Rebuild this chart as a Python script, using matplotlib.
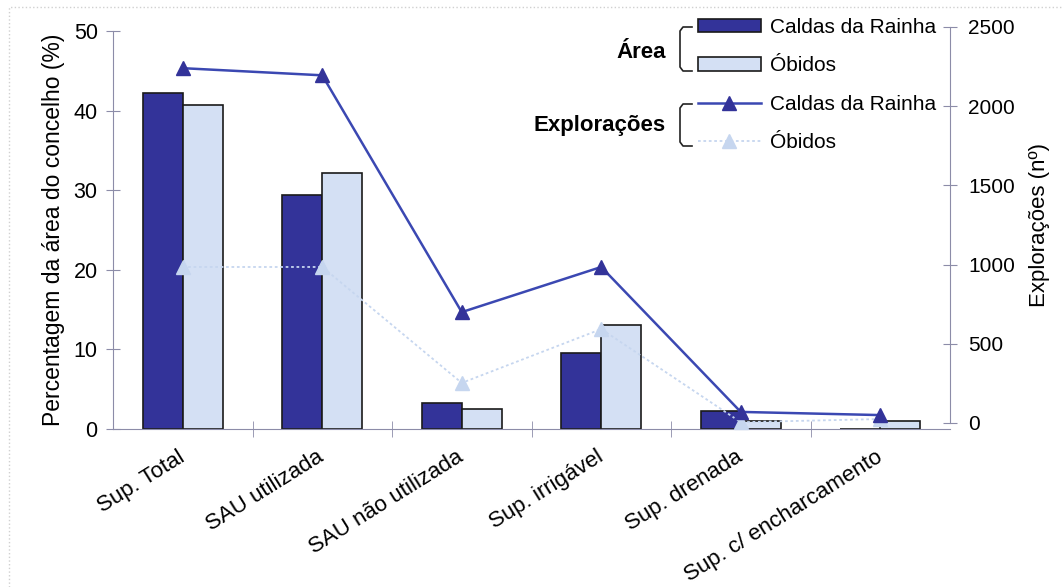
import matplotlib
matplotlib.use('Agg')

import matplotlib.pyplot as plt
import numpy as np
from matplotlib.lines import Line2D
from matplotlib.patches import Patch

plt.rcParams['font.family'] = ['Liberation Sans', 'DejaVu Sans']
plt.rcParams['font.size'] = 15

categorias = ['Sup. Total', 'SAU utilizada', 'SAU não utilizada',
              'Sup. irrigável', 'Sup. drenada', 'Sup. c/ encharcamento']

# area (% do concelho)
area_caldas = [42.2, 29.4, 3.3, 9.6, 2.2, 0.0]
area_obidos = [40.7, 32.2, 2.5, 13.1, 1.0, 1.0]

# numero de exploracoes
expl_caldas = [2240, 2195, 700, 985, 70, 50]
expl_obidos = [985, 985, 253, 593, 5, 25]

COR_CALDAS = '#333399'
COR_OBIDOS = '#D4E0F4'
LINHA_CALDAS = '#3B48B2'
LINHA_OBIDOS = '#C6D6EF'
EIXO = '#8C8CA8'

W, H = 1063, 587
fig = plt.figure(figsize=(W/100, H/100), dpi=100)
ax = fig.add_axes([113/W, 1 - 429/H, (950 - 113)/W, (429 - 31)/H])
# eixo secundario ligeiramente desfasado do principal
ax2 = fig.add_axes([113/W, 1 - 423/H, (950 - 113)/W, (423 - 27)/H], sharex=ax)
ax2.patch.set_visible(False)

x = np.arange(len(categorias))
w = 0.287
ax.bar(x - w/2, area_caldas, w, color=COR_CALDAS, edgecolor='#1a1a1a', linewidth=1.2, zorder=2)
ax.bar(x + w/2, area_obidos, w, color=COR_OBIDOS, edgecolor='#1a1a1a', linewidth=1.2, zorder=2)

ax2.plot(x, expl_obidos, color=LINHA_OBIDOS, linestyle=(0, (1.5, 1.5)), linewidth=1.3,
         marker='^', markersize=10, markerfacecolor=LINHA_OBIDOS, markeredgecolor=LINHA_OBIDOS,
         clip_on=False)
ax2.plot(x, expl_caldas, color=LINHA_CALDAS, linewidth=1.8,
         marker='^', markersize=10, markerfacecolor=COR_CALDAS, markeredgecolor=COR_CALDAS,
         clip_on=False)

ax.set_xlim(-0.5, len(categorias) - 0.5)
ax.set_ylim(0, 50)
ax.set_yticks(np.arange(0, 51, 10))
ax2.set_ylim(0, 2500)
ax2.set_yticks(np.arange(0, 2501, 500))

ax.set_xticks(x)
ax.set_xticklabels(categorias, rotation=32, ha='right', va='center', rotation_mode='anchor',
                   fontsize=16)
ax.set_xticks(np.arange(0.5, len(categorias) - 0.5, 1), minor=True)
ax.tick_params(axis='x', which='major', length=0, pad=19)
ax.tick_params(axis='x', which='minor', direction='inout', length=12, color=EIXO)
ax.tick_params(axis='y', direction='inout', length=10, color=EIXO, pad=6, labelsize=15.5)

ax2.yaxis.tick_right()
ax2.yaxis.set_label_position('right')
ax2.tick_params(axis='x', which='both', bottom=False, labelbottom=False)
ax2.tick_params(axis='y', direction='inout', length=10, color=EIXO, pad=8)

for s in ('top', 'right'):
    ax.spines[s].set_visible(False)
for s in ('top', 'left', 'bottom'):
    ax2.spines[s].set_visible(False)
ax.spines['left'].set_color(EIXO)
ax.spines['bottom'].set_color(EIXO)
ax2.spines['right'].set_color(EIXO)

ax.set_ylabel('Percentagem da área do concelho (%)', fontsize=16.5, labelpad=6)
ax2.set_ylabel('Explorações (nº)', fontsize=16, labelpad=10)

# legenda
handles = [
    Patch(facecolor=COR_CALDAS, edgecolor='#1a1a1a', linewidth=1.2),
    Patch(facecolor=COR_OBIDOS, edgecolor='#1a1a1a', linewidth=1.2),
    Line2D([], [], color=LINHA_CALDAS, linewidth=1.8, marker='^', markersize=10,
           markerfacecolor=COR_CALDAS, markeredgecolor=COR_CALDAS),
    Line2D([], [], color=LINHA_OBIDOS, linestyle=(0, (1.5, 1.5)), linewidth=1.3, marker='^',
           markersize=10, markerfacecolor=LINHA_OBIDOS, markeredgecolor=LINHA_OBIDOS),
]
labels = ['Caldas da Rainha', 'Óbidos', 'Caldas da Rainha', 'Óbidos']
leg = ax2.legend(handles, labels, loc='upper left', bbox_to_anchor=(698/W, 1 - 18/H),
                 bbox_transform=fig.transFigure, frameon=False, borderpad=0, borderaxespad=0,
                 handlelength=3.0, handleheight=0.6, handletextpad=0.45, labelspacing=0.93)


def chaveta(y0, y1):
    xs = np.array([692, 683, 680, 680, 683, 692]) / W
    ys = 1 - np.array([y0, y0, y0 + 4, y1 - 4, y1, y1]) / H
    fig.add_artist(Line2D(xs, ys, color='#222222', linewidth=1.2, transform=fig.transFigure))


chaveta(27, 71)
chaveta(104, 146)
fig.text(666/W, 1 - 52/H, 'Área', ha='right', va='center', fontweight='bold', fontsize=16)
fig.text(666/W, 1 - 125/H, 'Explorações', ha='right', va='center', fontweight='bold',
         fontsize=16)

# moldura pontilhada da area do grafico
fig.add_artist(Line2D([9/W, 9/W, 1], [0, 1 - 7/H, 1 - 7/H], color='#d0d0d0',
                      linestyle=':', linewidth=1, transform=fig.transFigure))

fig.savefig('out.png', dpi=100)
plt.close(fig)
